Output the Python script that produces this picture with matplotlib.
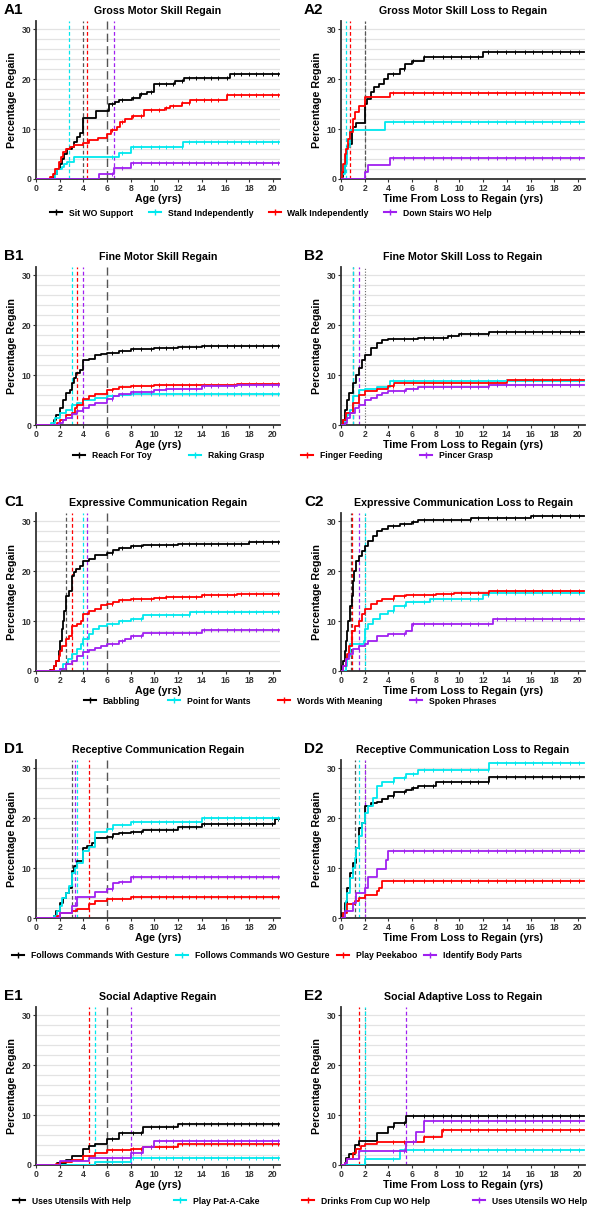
import numpy as np
import matplotlib
matplotlib.use('Agg')
import matplotlib.pyplot as plt
from matplotlib.lines import Line2D

plt.rcParams['font.family'] = ['Liberation Sans', 'DejaVu Sans']
plt.rcParams['font.weight'] = 'bold'

COLORS = ['#000000', '#00E8EE', '#FF0000', '#A020F0']

# Step curves: (time, cumulative % regain) at each event
A1_SIT = [(1.3, 0.5), (1.5, 1), (1.8, 2), (2.0, 3), (2.2, 4), (2.4, 5), (2.6, 6), (3.0, 6.5), (3.2, 7.5),
          (3.5, 8.5), (3.7, 9.3), (4.0, 12.2), (5.1, 13.6), (6.2, 15.0), (6.7, 15.5), (7.0, 15.8),
          (8.1, 16.3), (8.8, 17.0), (9.4, 17.5), (10.0, 19.1), (11.7, 19.7), (12.5, 20.3), (16.4, 21.1)]
A1_STAND = [(1.6, 1.0), (1.8, 2.0), (2.2, 2.5), (2.4, 3.0), (2.6, 3.5), (3.2, 4.5), (7.0, 5.3), (8.0, 6.5),
            (12.4, 7.5)]
A1_WALK = [(1.2, 0.5), (1.4, 1.0), (1.6, 2.0), (1.9, 3.5), (2.1, 4.5), (2.3, 5.5), (2.5, 6.0), (2.9, 6.5),
           (3.2, 6.8), (4.0, 7.3), (4.5, 7.8), (5.2, 8.2), (6.0, 9.0), (6.3, 9.8), (6.8, 10.5), (7.1, 11.5),
           (7.5, 12.0), (8.1, 12.7), (9.1, 13.8), (10.9, 14.2), (11.3, 14.7), (12.3, 15.2), (13.0, 15.9),
           (16.1, 16.8)]
A1_STAIRS = [(5.3, 1.1), (6.6, 2.2), (8.0, 3.3)]

A2_SIT = [(0.1, 0.5), (0.2, 1.5), (0.3, 3.0), (0.4, 5.0), (0.5, 6.5), (0.7, 7.0), (0.9, 9.8), (1.0, 10.5),
          (1.3, 11.2), (2.0, 15.0), (2.2, 16.0), (2.5, 17.5), (2.8, 18.5), (3.2, 19.0), (3.6, 20.0),
          (4.0, 21.0), (5.0, 22.0), (5.4, 23.0), (6.0, 23.6), (7.0, 24.4), (12.0, 25.5)]
A2_STAND = [(0.1, 1.0), (0.3, 3.0), (0.5, 6.5), (0.8, 9.8), (3.7, 11.5)]
A2_WALK = [(0.1, 1.5), (0.2, 3.0), (0.3, 5.0), (0.4, 6.0), (0.6, 8.0), (0.8, 9.5), (1.0, 12.0), (1.2, 13.5),
           (1.5, 14.7), (2.0, 16.5), (4.1, 17.3)]
A2_STAIRS = [(2.0, 1.5), (2.3, 2.9), (4.1, 4.3)]

B1_REACH = [(1.5, 1.0), (1.7, 2.0), (2.0, 3.5), (2.3, 5.0), (2.5, 6.5), (2.9, 7.0), (3.0, 8.5), (3.2, 9.5),
            (3.4, 10.5), (3.7, 11.0), (4.0, 13.0), (4.5, 13.3), (5.0, 14.0), (5.5, 14.2), (6.0, 14.5),
            (7.0, 14.8), (8.0, 15.2), (10.0, 15.4), (12.0, 15.7), (14.0, 15.9)]
B1_RAKING = [(1.3, 0.5), (1.6, 1.5), (2.0, 2.5), (2.5, 3.0), (3.0, 4.0), (3.5, 4.5), (4.0, 5.0), (5.0, 5.5),
             (6.0, 5.8), (7.0, 6.0), (8.0, 6.2)]
B1_FINGER = [(1.8, 0.5), (2.0, 1.0), (2.5, 2.0), (3.0, 2.5), (3.3, 3.5), (3.5, 4.0), (4.0, 5.3), (4.5, 5.8),
             (5.0, 6.2), (6.0, 7.0), (6.5, 7.3), (7.0, 7.6), (8.0, 7.8), (10.0, 8.0), (17.0, 8.3)]
B1_PINCER = [(1.9, 0.5), (2.3, 1.0), (2.5, 1.5), (3.0, 2.2), (3.5, 2.8), (4.0, 3.5), (4.5, 4.0), (5.0, 4.5),
             (6.0, 5.2), (6.5, 5.8), (7.0, 6.2), (8.0, 6.6), (10.0, 7.0), (11.0, 7.3), (14.0, 7.8), (17.0, 8.0)]

B2_REACH = [(0.2, 1.0), (0.3, 3.0), (0.5, 5.0), (0.7, 6.5), (1.0, 8.5), (1.3, 10.0), (1.5, 11.5), (1.8, 13.0),
            (2.0, 14.0), (2.5, 15.5), (3.0, 16.5), (3.5, 17.0), (4.0, 17.2), (5.0, 17.3), (6.5, 17.5),
            (9.0, 17.8), (10.0, 18.2), (12.5, 18.6)]
B2_RAKING = [(0.3, 1.0), (0.5, 2.0), (0.8, 3.0), (1.05, 5.9), (1.5, 7.0), (2.0, 7.3), (3.0, 7.6), (4.1, 8.8)]
B2_FINGER = [(0.2, 1.0), (0.4, 2.5), (1.0, 4.5), (1.5, 6.1), (2.0, 6.9), (3.0, 7.3), (4.0, 7.8), (4.5, 8.5),
             (14.0, 9.0)]
B2_PINCER = [(0.3, 0.5), (0.5, 1.5), (0.8, 2.5), (1.2, 3.5), (1.5, 4.0), (2.0, 5.0), (2.5, 5.5), (3.0, 6.0),
             (3.5, 6.5), (4.0, 6.8), (5.5, 7.2), (6.5, 7.6), (12.5, 8.0)]

C1_BABBLING = [(1.2, 0.3), (1.5, 1.0), (1.7, 2.0), (1.9, 4.0), (2.0, 6.0), (2.2, 8.5), (2.3, 10.0),
               (2.4, 12.0), (2.5, 15.0), (2.8, 16.0), (3.0, 19.0), (3.2, 19.8), (3.4, 20.5), (3.7, 21.0),
               (4.0, 22.0), (4.5, 22.5), (5.0, 23.2), (6.0, 23.6), (6.5, 24.2), (7.0, 24.6), (8.0, 25.0),
               (9.0, 25.2), (10.0, 25.3), (12.0, 25.5), (18.0, 25.8)]
C1_POINT = [(2.0, 0.5), (2.3, 1.5), (2.7, 2.5), (3.0, 3.5), (3.5, 4.5), (3.8, 5.5), (4.0, 6.5), (4.5, 7.5),
            (4.8, 8.5), (5.3, 9.0), (6.0, 9.5), (7.0, 10.0), (8.0, 10.5), (9.0, 11.2), (13.0, 11.9)]
C1_WORDS = [(1.3, 0.3), (1.5, 1.0), (1.7, 2.0), (1.9, 3.0), (2.0, 4.0), (2.2, 5.0), (2.5, 6.5), (2.8, 7.0),
            (3.0, 9.0), (3.5, 9.5), (3.8, 10.0), (4.0, 11.5), (4.5, 12.0), (5.0, 12.5), (5.5, 13.2),
            (6.0, 13.5), (6.5, 13.8), (7.0, 14.2), (8.0, 14.5), (10.0, 14.7), (11.0, 14.9), (14.0, 15.2),
            (17.0, 15.5)]
C1_PHRASES = [(2.0, 0.5), (2.5, 1.5), (3.0, 2.0), (3.5, 3.0), (4.0, 3.8), (4.5, 4.2), (5.0, 4.6), (5.5, 5.0),
              (6.0, 5.5), (7.0, 6.0), (7.5, 6.5), (8.0, 7.0), (9.0, 7.6), (14.0, 8.3)]

C2_BABBLING = [(0.1, 1.0), (0.2, 2.0), (0.3, 4.0), (0.4, 6.0), (0.5, 8.0), (0.6, 10.0), (0.8, 13.0),
               (0.9, 15.0), (1.0, 18.0), (1.1, 20.0), (1.3, 22.0), (1.5, 23.0), (1.8, 24.0), (2.0, 25.0),
               (2.3, 26.0), (2.7, 27.0), (3.0, 28.0), (3.5, 28.5), (4.0, 29.0), (5.0, 29.4), (6.0, 29.8),
               (6.5, 30.3), (11.0, 30.6), (16.0, 31.1)]
C2_POINT = [(0.4, 1.0), (0.5, 3.0), (0.8, 5.5), (1.9, 6.0), (2.0, 8.5), (2.3, 9.5), (2.7, 10.5), (3.3, 11.5),
            (4.0, 12.0), (4.5, 13.0), (5.5, 13.8), (7.5, 14.5), (12.0, 15.2), (12.5, 15.7)]
C2_WORDS = [(0.2, 1.0), (0.4, 2.5), (0.5, 3.5), (0.7, 5.0), (0.9, 8.0), (1.2, 9.0), (1.5, 10.0), (1.8, 11.5),
            (2.0, 12.5), (2.5, 13.5), (3.0, 14.0), (3.5, 14.5), (4.5, 15.0), (5.5, 15.3), (8.0, 15.5),
            (9.5, 15.7), (12.5, 16.0)]
C2_PHRASES = [(0.2, 1.0), (0.4, 2.5), (0.7, 3.5), (1.0, 4.5), (1.5, 5.0), (2.0, 5.5), (2.3, 6.0), (3.0, 7.0),
              (4.0, 7.5), (5.5, 8.0), (6.0, 9.5), (12.8, 10.5)]

D1_GESTURE = [(1.5, 0.5), (1.7, 1.5), (2.0, 3.0), (2.3, 4.0), (2.5, 5.0), (2.8, 6.0), (3.0, 9.5), (3.2, 10.5),
              (3.5, 11.5), (4.0, 14.0), (4.3, 14.5), (4.7, 15.0), (5.0, 16.0), (6.0, 16.3), (6.5, 16.8),
              (7.0, 17.0), (8.0, 17.3), (9.0, 17.6), (12.0, 18.2), (14.0, 18.8), (20.2, 19.8)]
D1_NO_GESTURE = [(1.5, 0.5), (1.8, 1.5), (2.0, 2.5), (2.2, 4.0), (2.5, 5.0), (2.8, 6.5), (3.0, 9.0),
                 (3.3, 10.0), (3.5, 11.0), (4.0, 13.5), (4.5, 14.2), (5.0, 17.3), (6.0, 17.8), (6.5, 18.6),
                 (8.0, 19.2), (14.0, 20.0)]
D1_PEEKABOO = [(1.8, 0.5), (2.0, 1.0), (3.0, 1.5), (3.5, 1.8), (4.5, 2.8), (5.0, 3.5), (6.0, 3.8), (8.0, 4.2)]
D1_BODY = [(2.0, 1.0), (3.0, 2.5), (3.5, 4.3), (5.0, 5.3), (6.0, 5.8), (6.5, 7.0), (7.0, 7.3), (8.0, 8.2)]

D2_GESTURE = [(0.1, 1.0), (0.3, 3.0), (0.5, 6.0), (0.8, 9.0), (1.0, 11.0), (1.3, 14.0), (1.5, 18.0),
              (1.8, 19.0), (2.0, 22.5), (2.5, 23.0), (3.0, 23.2), (3.5, 23.8), (4.0, 24.5), (4.5, 25.3),
              (5.5, 25.7), (6.0, 26.0), (6.5, 26.5), (8.0, 27.2), (12.5, 28.2)]
D2_NO_GESTURE = [(0.2, 1.0), (0.4, 3.5), (0.5, 5.0), (0.8, 8.0), (1.0, 10.0), (1.2, 12.0), (1.3, 14.0),
                 (1.5, 16.5), (1.8, 19.0), (2.0, 21.0), (2.3, 22.5), (2.7, 24.0), (3.0, 26.5), (3.5, 27.2),
                 (4.5, 28.0), (5.5, 28.8), (6.5, 29.7), (12.5, 31.0)]
D2_PEEKABOO = [(0.2, 1.0), (0.5, 2.8), (1.2, 3.5), (1.5, 4.0), (2.0, 4.6), (3.0, 5.5), (3.2, 6.0), (3.5, 7.5)]
D2_BODY = [(0.3, 1.5), (1.0, 3.0), (1.3, 5.0), (2.0, 6.0), (2.3, 8.2), (3.0, 9.8), (3.8, 11.7), (4.0, 13.5)]

E1_UTENSILS_HELP = [(1.8, 0.5), (2.5, 1.0), (3.0, 1.8), (4.0, 3.3), (4.5, 3.8), (5.0, 4.3), (6.0, 5.3),
                    (7.0, 6.4), (9.0, 7.6), (12.0, 8.3)]
E1_PATACAKE = [(5.0, 0.7), (8.0, 1.5)]
E1_CUP = [(1.7, 0.3), (2.0, 0.6), (3.0, 1.0), (4.0, 1.8), (5.0, 2.5), (6.0, 3.0), (8.0, 3.2), (9.0, 3.6),
          (12.0, 4.3)]
E1_UTENSILS = [(2.0, 0.8), (4.5, 1.5), (8.0, 2.5), (9.0, 3.7), (10.0, 4.8)]

E2_UTENSILS_HELP = [(0.3, 0.5), (0.4, 1.5), (0.7, 2.3), (1.2, 4.0), (1.5, 4.8), (3.0, 6.5), (4.0, 7.6),
                    (4.5, 8.5), (5.5, 9.8)]
E2_PATACAKE = [(2.0, 1.3), (5.0, 3.0)]
E2_CUP = [(0.3, 0.5), (0.5, 1.2), (1.0, 2.5), (1.3, 3.3), (1.7, 3.8), (2.0, 4.2), (3.0, 4.6), (7.0, 5.7),
          (8.5, 7.0)]
E2_UTENSILS = [(0.3, 0.5), (0.5, 1.3), (1.5, 2.8), (5.5, 4.6), (6.3, 6.7), (7.0, 8.8)]

# medians per series (black, cyan, red, purple); None = not reached / not shown
A1_MED = [4.0, 2.8, 4.3, 6.6]
A2_MED = [2.0, 0.45, 0.73, None]
B1_MED = [None, 3.0, 3.5, 4.0]
B2_MED = [1.0, 1.05, None, 1.5]
C1_MED = [2.5, 4.0, 3.0, 4.3]
C2_MED = [0.87, 2.02, 0.95, 1.5]
D1_MED = [3.0, 3.5, 4.5, 3.3]
D2_MED = [1.2, 1.5, None, 2.0]
E1_MED = [None, 5.0, 4.5, 8.0]
E2_MED = [None, 2.0, 1.5, 5.5]

REF_AGE = 6.0
REF_GAP = 2.0
FOLLOW_UP_END = 20.5

CENSOR_AGE = [6.4, 7.3, 8.2, 8.9, 9.7, 10.4, 11.0, 11.6, 12.3, 12.9, 13.5, 14.2, 14.8, 15.4, 16.1, 16.7,
              17.3, 18.0, 18.6, 19.2, 19.9, 20.4]
CENSOR_GAP = [4.4, 5.3, 6.1, 7.0, 7.8, 8.6, 9.3, 10.1, 10.9, 11.6, 12.4, 13.2, 13.9, 14.7, 15.5, 16.2,
              17.0, 17.8, 18.5, 19.3, 20.1]

ROW_LABELS = [
    ['Sit WO Support', 'Stand Independently', 'Walk Independently', 'Down Stairs WO Help'],
    ['Reach For Toy', 'Raking Grasp', 'Finger Feeding', 'Pincer Grasp'],
    ['Babbling', 'Point for Wants', 'Words With Meaning', 'Spoken Phrases'],
    ['Follows Commands With Gesture', 'Follows Commands WO Gesture', 'Play Peekaboo', 'Identify Body Parts'],
    ['Uses Utensils With Help', 'Play Pat-A-Cake', 'Drinks From Cup WO Help', 'Uses Utensils WO Help'],
]
ROW_TITLES = ['Gross Motor Skill', 'Fine Motor Skill', 'Expressive Communication',
              'Receptive Communication', 'Social Adaptive']
ROW_TAGS = ['A', 'B', 'C', 'D', 'E']

ROW_SERIES = [
    ([A1_SIT, A1_STAND, A1_WALK, A1_STAIRS], [A2_SIT, A2_STAND, A2_WALK, A2_STAIRS], A1_MED, A2_MED),
    ([B1_REACH, B1_RAKING, B1_FINGER, B1_PINCER], [B2_REACH, B2_RAKING, B2_FINGER, B2_PINCER], B1_MED, B2_MED),
    ([C1_BABBLING, C1_POINT, C1_WORDS, C1_PHRASES], [C2_BABBLING, C2_POINT, C2_WORDS, C2_PHRASES], C1_MED, C2_MED),
    ([D1_GESTURE, D1_NO_GESTURE, D1_PEEKABOO, D1_BODY], [D2_GESTURE, D2_NO_GESTURE, D2_PEEKABOO, D2_BODY],
     D1_MED, D2_MED),
    ([E1_UTENSILS_HELP, E1_PATACAKE, E1_CUP, E1_UTENSILS], [E2_UTENSILS_HELP, E2_PATACAKE, E2_CUP, E2_UTENSILS],
     E1_MED, E2_MED),
]

W, H = 600, 1210
ROW_TOPS = [21, 267, 513, 760, 1007]
LEGEND_Y = [213, 456, 701, 956, 1201]
LEGEND_X = [271, 283, 290, 267, 300]
LEGEND_GAP = [1.8, 4.3, 3.2, 0.8, 5.0]
AX_H = 158
COL_LEFT = [36, 341]
AX_W = 244


def style_axes(ax, xlabel):
    ax.set_xlim(0, 20.6)
    ax.set_ylim(0, 31.7)
    ax.set_xticks(np.arange(0, 21, 2))
    ax.set_yticks([0, 10, 20, 30])
    for yy in np.arange(2, 32, 2):
        ax.axhline(yy, color='#E3E3E3', lw=0.9, zorder=0)
    for side in ['top', 'right']:
        ax.spines[side].set_visible(False)
    for side in ['left', 'bottom']:
        ax.spines[side].set_color('#333333')
        ax.spines[side].set_linewidth(1.3)
    ax.tick_params(axis='both', length=2.5, width=0.8, color='#333333', labelsize=6.2,
                   labelcolor='#333333', pad=1)
    for lab in ax.get_xticklabels() + ax.get_yticklabels():
        lab.set_fontweight('bold')
    ax.set_xlabel(xlabel, fontsize=7.7, fontweight='bold', labelpad=1)
    ax.set_ylabel('Percentage Regain', fontsize=7.7, fontweight='bold', labelpad=3)


def draw_curve(ax, pts, color, censor):
    x = [0.0] + [p[0] for p in pts] + [FOLLOW_UP_END]
    y = [0.0] + [p[1] for p in pts] + [pts[-1][1]]
    ax.step(x, y, where='post', color=color, lw=1.3, zorder=3)
    xs = np.array(x)
    ys = np.array(y)
    ct = np.array([c for c in censor if c <= FOLLOW_UP_END])
    cy = ys[np.searchsorted(xs, ct, side='right') - 1]
    ax.plot(ct, cy, ls='none', marker='|', ms=3, mew=0.7, color=color, zorder=4)


fig = plt.figure(figsize=(W / 100, H / 100), dpi=100)

for r in range(5):
    left_series, right_series, left_med, right_med = ROW_SERIES[r]
    bottom = 1 - (ROW_TOPS[r] + AX_H) / H
    for c in range(2):
        ax = fig.add_axes([COL_LEFT[c] / W, bottom, AX_W / W, AX_H / H])
        series = left_series if c == 0 else right_series
        meds = left_med if c == 0 else right_med
        xlabel = 'Age (yrs)' if c == 0 else 'Time From Loss to Regain (yrs)'
        style_axes(ax, xlabel)
        title = ROW_TITLES[r] + (' Regain' if c == 0 else ' Loss to Regain')
        ax.set_title(title, fontsize=7.7, fontweight='bold', pad=5)

        if c == 0:
            ax.axvline(REF_AGE, color='#555555', lw=1.0, ls=(0, (6, 3)), zorder=2)
        else:
            ax.axvline(REF_GAP, color='#666666', lw=0.8, ls=(0, (1, 1.5)), zorder=2)
        for k, m in enumerate(meds):
            if m is None:
                continue
            col = '#555555' if k == 0 else COLORS[k]
            ax.axvline(m, color=col, lw=0.9, ls=(0, (3, 2)), zorder=2)

        censor = CENSOR_AGE if c == 0 else CENSOR_GAP
        for k, pts in enumerate(series):
            draw_curve(ax, pts, COLORS[k], censor)

        fig.text((4 + 300 * c) / W, 1 - (ROW_TOPS[r] - 11) / H, f'{ROW_TAGS[r]}{c + 1}',
                 fontsize=11, fontweight='bold', ha='left', va='center')

    handles = [Line2D([0], [0], color=COLORS[k], lw=1.5, marker='|', ms=5, mew=1.0) for k in range(4)]
    fig.legend(handles, ROW_LABELS[r], loc='center',
               bbox_to_anchor=(LEGEND_X[r] / W, 1 - LEGEND_Y[r] / H), ncol=4,
               frameon=False, handlelength=1.4, handletextpad=0.8, columnspacing=LEGEND_GAP[r],
               prop={'weight': 'bold', 'size': 6.2})

fig.savefig('out.png', dpi=100)
